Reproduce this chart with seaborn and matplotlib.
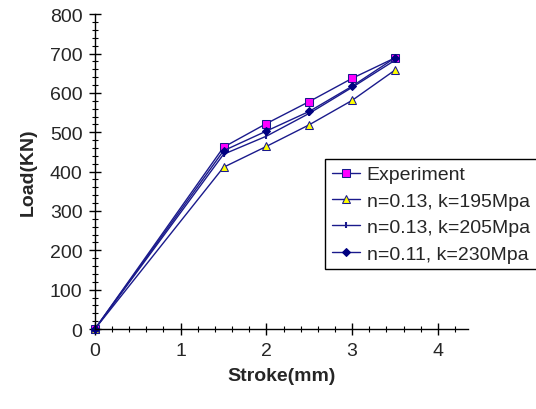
import pandas as pd
import seaborn as sns
import matplotlib.pyplot as plt
from matplotlib.ticker import MultipleLocator

# data
stroke = [0, 1.5, 2.0, 2.5, 3.0, 3.5]
experiment = [0, 462, 522, 578, 637, 689]
n013_k195 = [0, 411, 464, 519, 581, 658]
n013_k205 = [0, 444, 490, 548, 614, 683]
n011_k230 = [0, 453, 503, 553, 617, 689]
labels = ['Experiment', 'n=0.13, k=195Mpa', 'n=0.13, k=205Mpa', 'n=0.11, k=230Mpa']

sns.set_style('ticks')
plt.rcParams['font.family'] = ['Liberation Sans', 'DejaVu Sans']

fig = plt.figure(figsize=(5.36, 4.10), dpi=100)
ax = fig.add_axes([0.177, 0.195, 0.696, 0.768])

navy = '#1a1a8c'
styles = [
    dict(marker='s', markersize=6, markerfacecolor='#ff00ff', markeredgecolor=navy),
    dict(marker='^', markersize=6, markerfacecolor='#ffff00', markeredgecolor=navy),
    dict(marker='|', markersize=5, markeredgecolor=navy, markeredgewidth=1.5),
    dict(marker='D', markersize=4.5, markerfacecolor='#000080', markeredgecolor='#000080'),
]
for vals, lab, st in zip([experiment, n013_k195, n013_k205, n011_k230], labels, styles):
    df = pd.DataFrame({'x': stroke, 'y': vals})
    sns.lineplot(data=df, x='x', y='y', ax=ax, color=navy, linewidth=1.0,
                 label=lab, clip_on=False, **st)

ax.set_xlim(0, 4.35)
ax.set_ylim(0, 800)
ax.xaxis.set_major_locator(MultipleLocator(1))
ax.xaxis.set_minor_locator(MultipleLocator(0.2))
ax.yaxis.set_major_locator(MultipleLocator(100))
ax.yaxis.set_minor_locator(MultipleLocator(20))
ax.tick_params(which='major', direction='inout', length=8, width=1, labelsize=14, pad=5, color='black')
ax.tick_params(which='minor', direction='inout', length=4, width=0.8, color='black')
for s in ['top', 'right']:
    ax.spines[s].set_visible(False)
for s in ['left', 'bottom']:
    ax.spines[s].set_color('black')
    ax.spines[s].set_linewidth(1)

ax.set_xlabel('Stroke(mm)', fontsize=14, fontweight='bold', labelpad=6)
ax.set_ylabel('Load(KN)', fontsize=14, fontweight='bold', labelpad=9)

leg = ax.legend(loc='upper left', bbox_to_anchor=(0.617, 0.54), fontsize=14,
                frameon=True, fancybox=False, framealpha=1, edgecolor='black',
                handlelength=1.45, borderpad=0.35, labelspacing=0.45, handletextpad=0.35,
                borderaxespad=0)
leg.get_frame().set_linewidth(1)

fig.savefig('out.png', dpi=100)
